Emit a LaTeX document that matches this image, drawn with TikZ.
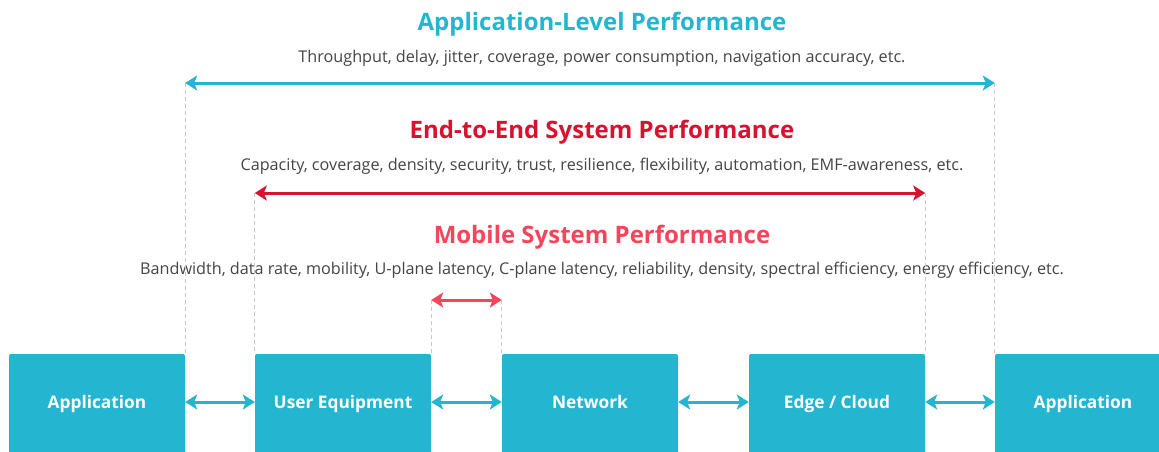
\documentclass[tikz,border=0pt]{standalone}
\usepackage{fontspec}
\setmainfont{Open Sans}
\usetikzlibrary{arrows.meta}
\definecolor{cy}{HTML}{24B6D1}
\definecolor{dred}{HTML}{D7132F}
\definecolor{pred}{HTML}{F5455C}
\definecolor{gtext}{HTML}{454545}
\definecolor{dashc}{HTML}{C8C8C8}
\begin{document}
\begin{tikzpicture}[x=1pt,y=-1pt,
  box/.style={fill=cy, rounded corners=2pt, minimum width=176pt, minimum height=104pt, inner sep=0pt, text height=8pt, text depth=4pt, text=white, font=\fontsize{17.3}{20}\selectfont\bfseries},
  title/.style={font=\fontsize{24}{28}\selectfont\bfseries, inner sep=0pt, anchor=base},
  sub/.style={font=\fontsize{16.2}{19}\selectfont, text=gtext, inner sep=0pt, anchor=base},
  dbl/.style={{Stealth[length=12pt,width=15pt,inset=3pt]}-{Stealth[length=12pt,width=15pt,inset=3pt]}, line width=3pt},
  guide/.style={dashc, line width=1pt, dash pattern=on 4pt off 3pt}
]
\useasboundingbox (0,0) rectangle (1159,451);
\clip (0,0) rectangle (1159,451);
\fill[white] (0,0) rectangle (1159,451);
% boxes
\node[box] (app1) at (97,406) {Application};
\node[box] (ue) at (343,406) {User Equipment};
\node[box] (net) at (590,406) {Network};
\node[box] (edge) at (837,406) {Edge / Cloud};
\node[box] (app2) at (1083,406) {Application};
% texts
\node[title, text=cy] (t1) at (602,30) {Application-Level Performance};
\node[sub] (s1) at (602,62) {Throughput, delay, jitter, coverage, power consumption, navigation accuracy, etc.};
\node[title, text=dred] (t2) at (602,138) {End-to-End System Performance};
\node[sub] (s2) at (602,170) {Capacity, coverage, density, security, trust, resilience, flexibility, automation, EMF-awareness, etc.};
\node[title, text=pred] (t3) at (602,243) {Mobile System Performance};
\node[sub] (s3) at (602,274) {Bandwidth, data rate, mobility, U-plane latency, C-plane latency, reliability, density, spectral efficiency, energy efficiency, etc.};
% coordinates for span arrows
\coordinate (a1l) at (app1.north east |- 0,83);
\coordinate (a1r) at (app2.north west |- 0,83);
\coordinate (a2l) at (ue.north west |- 0,193);
\coordinate (a2r) at (edge.north east |- 0,193);
\coordinate (a3l) at (ue.north east |- 0,300);
\coordinate (a3r) at (net.north west |- 0,300);
% guides
\draw[guide] (a1l) -- (app1.north east);
\draw[guide] (a1r) -- (app2.north west);
\draw[guide] (a2l) -- (ue.north west);
\draw[guide] (a2r) -- (edge.north east);
\draw[guide] (a3l) -- (ue.north east);
\draw[guide] (a3r) -- (net.north west);
% span arrows
\draw[dbl, cy] (a1l) -- (a1r);
\draw[dbl, dred] (a2l) -- (a2r);
\draw[dbl, pred] (a3l) -- (a3r);
% box arrows
\coordinate (r) at (0,402);
\draw[dbl, cy] (app1.east |- r) -- (ue.west |- r);
\draw[dbl, cy] (ue.east |- r) -- (net.west |- r);
\draw[dbl, cy] (net.east |- r) -- (edge.west |- r);
\draw[dbl, cy] (edge.east |- r) -- (app2.west |- r);
\end{tikzpicture}
\end{document}
